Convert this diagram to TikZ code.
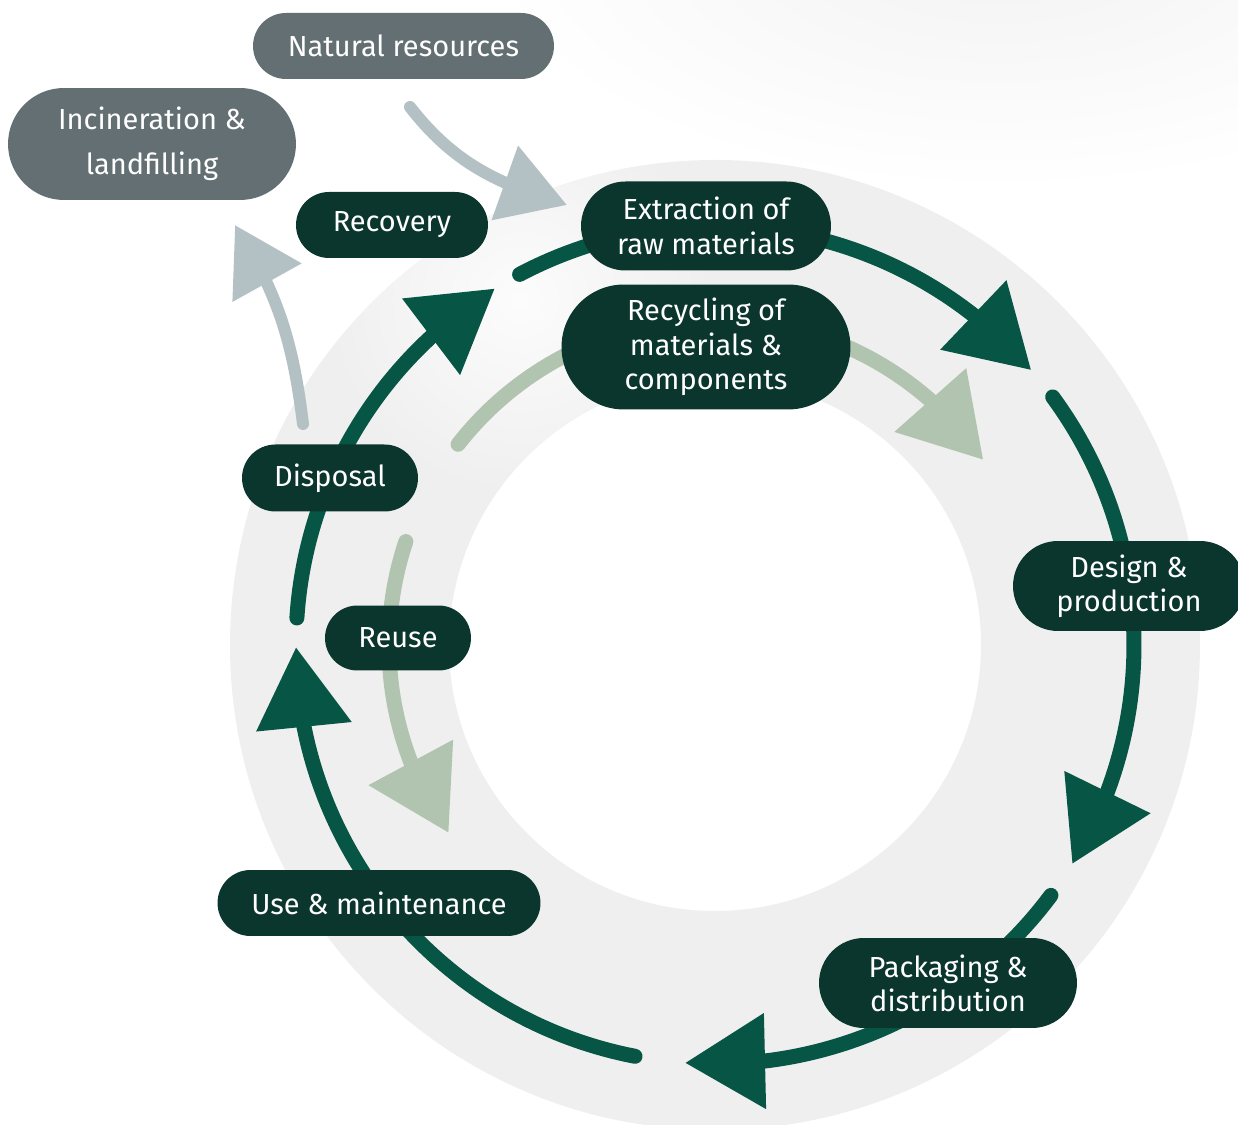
\documentclass[tikz,border=0pt]{standalone}
\usepackage{fontspec}
\setmainfont{Fira Sans}
\usetikzlibrary{shapes.misc,arrows.meta,bending,backgrounds,fadings}

\definecolor{nodedark}{HTML}{0A362D}
\definecolor{nodegray}{HTML}{636F72}
\definecolor{loopgreen}{HTML}{065545}
\definecolor{reusegreen}{HTML}{B0C4AF}
\definecolor{leakgray}{HTML}{B4C1C4}
\definecolor{ringgray}{HTML}{EFEFEF}

\tikzfading[name=soft spot, inner color=transparent!0, outer color=transparent!100]

\tikzset{
  stage/.style={rounded rectangle, fill=nodedark, text=white, inner sep=0pt,
    align=center, font=\fontsize{16.5}{19.5}\selectfont},
  outside/.style={stage, fill=nodegray},
  loop arrow/.style={draw=loopgreen, line width=0.3cm, line cap=round,
    -{Triangle[length=1.6cm, width=1.84cm]}},
  inner loop/.style={loop arrow, draw=reusegreen},
  leak arrow/.style={draw=leakgray, line width=0.24cm, line cap=round,
    -{Triangle[length=1.32cm, width=1.52cm]}}
}

\begin{document}
\begin{tikzpicture}[x=0.02cm, y=0.02cm]
  \useasboundingbox (-715,-480) rectangle (523,645);

  % stages
  \node[outside, minimum width=6.02cm, minimum height=1.32cm] (natural) at (-311.5,599) {Natural resources};
  \node[outside, minimum width=5.76cm, minimum height=2.24cm,
    font=\fontsize{16.5}{25.6}\selectfont] (burning) at (-563,501) {Incineration \&\\landfilling};
  \node[stage, minimum width=3.84cm, minimum height=1.32cm] (recovery) at (-323,420) {Recovery};
  \node[stage, minimum width=5.0cm, minimum height=1.78cm] (extraction) at (-9,419) {Extraction of\\raw materials};
  \node[stage, minimum width=5.78cm, minimum height=2.5cm] (recycling) at (-9,298) {Recycling of\\materials \&\\components};
  \node[stage, minimum width=3.52cm, minimum height=1.34cm] (disposal) at (-385,167) {Disposal};
  \node[stage, minimum width=2.92cm, minimum height=1.3cm] (reuse) at (-317,7) {Reuse};
  \node[stage, minimum width=4.64cm, minimum height=1.8cm] (design) at (414,59) {Design \&\\production};
  \node[stage, minimum width=5.16cm, minimum height=1.8cm] (packaging) at (233,-338) {Packaging \&\\distribution};
  \node[stage, minimum width=6.46cm, minimum height=1.32cm] (use) at (-336,-258) {Use \& maintenance};

  % free ends of the connectors
  \coordinate (s1) at (117.8:419);
  \coordinate (s2) at (36.3:419);
  \coordinate (s3) at (-36.7:419);
  \coordinate (s4) at (-101:419);
  \coordinate (s5) at (176.3:419);
  \coordinate (r1) at (142:326);
  \coordinate (r2) at (161.5:326);
  \coordinate (g1) at (-305,538);
  \coordinate (g1 tip) at (-148,440);
  \coordinate (g2) at (-412,221);
  \coordinate (g2 tip) at (-480,420);

  \begin{scope}[on background layer]
    \clip (-715,-480) rectangle (523,645);
    \shade[inner color=black!5, outer color=white] (285,705) ellipse (520 and 250);
    \fill[ringgray, even odd rule] (0,0) circle[radius=485] (0,0) circle[radius=266];
    \fill[white, opacity=0.85, path fading=soft spot] (-195,345) circle[radius=200];

    % main loop
    \draw[loop arrow] (s1) arc[start angle=117.8, end angle=41, radius=419];
    \draw[loop arrow] (s2) arc[start angle=36.3, end angle=-31.5, radius=419];
    \draw[loop arrow] (s3) arc[start angle=-36.7, end angle=-94.1, radius=419];
    \draw[loop arrow] (s4) arc[start angle=-101, end angle=-179.7, radius=419];
    \draw[loop arrow] (s5) arc[start angle=176.3, end angle=121.7, radius=419];

    % recycling and reuse
    \draw[inner loop] (r1) arc[start angle=142, end angle=34.6, radius=326];
    \draw[inner loop] (r2) arc[start angle=161.5, end angle=215.2, radius=326];

    % in and out of the loop
    \draw[leak arrow] (g1) to[out=-52, in=163] (g1 tip);
    \draw[leak arrow] (g2) to[out=97, in=-58] (g2 tip);
  \end{scope}
\end{tikzpicture}
\end{document}
